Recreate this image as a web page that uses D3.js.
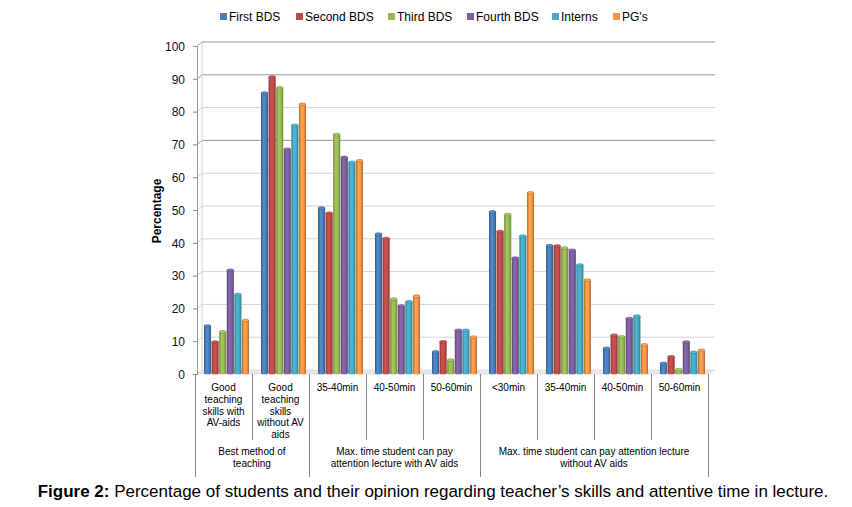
<!DOCTYPE html>
<meta charset="utf-8">
<style>
body { margin: 0; background: #fff; }
svg { font-family: "Liberation Sans", Arial, sans-serif; }
.tick text { font-size: 12px; fill: #111; }
.catlabel { font-size: 10px; fill: #000; }
.grouplabel { font-size: 10px; fill: #000; }
.legend text { font-size: 12px; fill: #000; }
</style>
<svg width="852" height="507"></svg>
<script src="https://d3js.org/d3.v7.min.js"></script>
<script>
var series = ["First BDS", "Second BDS", "Third BDS", "Fourth BDS", "Interns", "PG's"];
var colors = ["#4a7ebb", "#be4b48", "#98b954", "#7d60a0", "#46aac5", "#f69546"];

var categories = ["c1", "c2", "c3", "c4", "c5", "c6", "c7", "c8", "c9"];
var catLabels = [
  ["Good", "teaching", "skills with", "AV-aids"],
  ["Good", "teaching", "skills", "without AV", "aids"],
  ["35-40min"], ["40-50min"], ["50-60min"],
  ["<30min"], ["35-40min"], ["40-50min"], ["50-60min"]
];
var groups = [
  { lines: ["Best method of", "teaching"], from: 0, to: 1 },
  { lines: ["Max. time student can pay", "attention lecture with AV aids"], from: 2, to: 4 },
  { lines: ["Max. time student can pay attention lecture", "without AV aids"], from: 5, to: 8 }
];

// values per series, one per category
var firstBDS  = [14.6, 85.6, 50.6, 42.6, 6.7, 49.4, 39.1, 7.8, 3.2];
var secondBDS = [9.7, 90.5, 49.0, 41.3, 9.8, 43.4, 39.0, 11.8, 5.2];
var thirdBDS  = [12.8, 87.2, 73.0, 22.8, 4.2, 48.6, 38.4, 11.3, 1.3];
var fourthBDS = [31.6, 68.5, 66.0, 20.7, 13.3, 35.3, 37.7, 16.9, 9.7];
var interns   = [24.2, 75.8, 64.5, 22.0, 13.3, 42.0, 33.2, 17.6, 6.6];
var pgs       = [16.3, 82.2, 65.0, 23.7, 11.2, 55.2, 28.6, 8.9, 7.2];
var values = [firstBDS, secondBDS, thirdBDS, fourthBDS, interns, pgs];

var yTicks = [0, 10, 20, 30, 40, 50, 60, 70, 80, 90, 100];

var svg = d3.select("svg");
var defs = svg.append("defs");

var y = d3.scaleLinear().domain([0, 100]).range([374, 46]);
var xCat = d3.scaleBand().domain(categories).range([195, 708]);
var xSer = d3.scaleBand().domain(series).range([0, 45]).paddingInner(0.07);
var depth = 4;

// gradients for cylinder look
colors.forEach(function(c, i) {
  var g = defs.append("linearGradient").attr("id", "g" + i)
    .attr("x1", "0").attr("x2", "1").attr("y1", "0").attr("y2", "0");
  var base = d3.color(c);
  g.append("stop").attr("offset", "0%").attr("stop-color", base.darker(0.9));
  g.append("stop").attr("offset", "35%").attr("stop-color", base.brighter(0.25));
  g.append("stop").attr("offset", "70%").attr("stop-color", base);
  g.append("stop").attr("offset", "100%").attr("stop-color", base.darker(1.0));
});

// floor
var x0 = xCat.range()[0] + 2, x1 = xCat.range()[1];
svg.append("path")
  .attr("d", "M" + x0 + "," + y(0) + "L" + x1 + "," + y(0) + "L" + (x1 + 7) + "," + (y(0) - depth) +
             "L" + (x0 + 5) + "," + (y(0) - depth) + "Z")
  .attr("fill", "#e6e6e6").attr("stroke", "#d0d0d0").attr("stroke-width", 0.6);

// gridlines on back wall
svg.append("g").selectAll("path")
  .data(yTicks.slice(1))
  .join("path")
  .attr("d", function(d) {
    return "M" + x0 + "," + y(d) + "L" + (x0 + 5) + "," + (y(d) - depth) + "L" + (x1 + 7) + "," + (y(d) - depth);
  })
  .attr("fill", "none")
  .attr("stroke", function(d) { return (d === 100 || d === 70 || d === 90) ? "#9a9a9a" : "#d4d4d4"; })
  .attr("stroke-width", 1);

// back wall left edge
svg.append("line")
  .attr("x1", x0 + 5).attr("x2", x0 + 5).attr("y1", y(100) - depth).attr("y2", y(0) - depth)
  .attr("stroke", "#d4d4d4");

// y axis
var yAxis = d3.axisLeft(y).tickValues(yTicks).tickSize(4).tickPadding(8);
var ya = svg.append("g").attr("transform", "translate(" + x0 + ",0)").call(yAxis);
ya.select(".domain").attr("stroke", "#999");
ya.selectAll(".tick line").attr("stroke", "#888");
ya.selectAll(".tick text").attr("dy", "0.36em");

svg.append("text")
  .attr("transform", "translate(161,211) rotate(-90)")
  .attr("text-anchor", "middle")
  .style("font-size", "12px").style("font-weight", "bold")
  .text("Percentage");

// bars
var barG = svg.append("g");
categories.forEach(function(c, ci) {
  series.forEach(function(s, si) {
    var v = values[si][ci];
    var bx = xCat(c) + 9 + xSer(s), bw = xSer.bandwidth();
    var top = y(v), bottom = y(0) - 1;
    barG.append("rect")
      .attr("x", bx).attr("y", top).attr("width", bw).attr("height", bottom - top)
      .attr("fill", "url(#g" + si + ")");
    barG.append("ellipse")
      .attr("cx", bx + bw / 2).attr("cy", bottom).attr("rx", bw / 2).attr("ry", 1.3)
      .attr("fill", "url(#g" + si + ")");
    barG.append("ellipse")
      .attr("cx", bx + bw / 2).attr("cy", top).attr("rx", bw / 2).attr("ry", 1.4)
      .attr("fill", d3.color(colors[si]).brighter(0.3))
      .attr("stroke", d3.color(colors[si]).darker(0.8)).attr("stroke-width", 0.6);
  });
});

// category table lines
var lineCol = "#888";
var bottomInner = 440, bottomOuter = 477;
var tableG = svg.append("g").attr("stroke", lineCol).attr("stroke-width", 1);
var boundaries = categories.map(function(c) { return xCat(c); }).concat([x1]);
boundaries.forEach(function(bx, i) {
  var isGroupEdge = groups.some(function(g) { return g.from === i; }) || i === categories.length;
  tableG.append("line")
    .attr("x1", bx + 0.5).attr("x2", bx + 0.5)
    .attr("y1", y(0)).attr("y2", isGroupEdge ? bottomOuter : bottomInner);
});

// category labels
catLabels.forEach(function(lines, ci) {
  var t = svg.append("text").attr("class", "catlabel")
    .attr("text-anchor", "middle")
    .attr("x", xCat(categories[ci]) + xCat.bandwidth() / 2)
    .attr("y", 391);
  lines.forEach(function(l, li) {
    t.append("tspan").attr("x", xCat(categories[ci]) + xCat.bandwidth() / 2)
      .attr("dy", li === 0 ? 0 : 11.8).text(l);
  });
});

// group labels
groups.forEach(function(g) {
  var cx = (xCat(categories[g.from]) + xCat(categories[g.to]) + xCat.bandwidth()) / 2;
  var t = svg.append("text").attr("class", "grouplabel")
    .attr("text-anchor", "middle").attr("y", 455);
  g.lines.forEach(function(l, li) {
    t.append("tspan").attr("x", cx).attr("dy", li === 0 ? 0 : 12.4).text(l);
  });
});

// legend
var legendX = [220, 296, 388, 467, 552, 613];
var legend = svg.append("g").attr("class", "legend");
series.forEach(function(s, i) {
  legend.append("rect").attr("x", legendX[i]).attr("y", 13).attr("width", 7).attr("height", 7)
    .attr("fill", colors[i]);
  legend.append("text").attr("x", legendX[i] + 9).attr("y", 21).text(s);
});

// caption
var cap = svg.append("text").attr("x", 433).attr("y", 497).attr("text-anchor", "middle")
  .style("font-size", "15px").style("font-family", "'Liberation Sans Narrow', 'Liberation Sans', Arial, sans-serif");
cap.append("tspan").style("font-weight", "bold").text("Figure 2:");
cap.append("tspan").text(" Percentage of students and their opinion regarding teacher\u2019s skills and attentive time in lecture.");
var w = cap.node().getComputedTextLength();
cap.style("font-size", (15 * 791 / w) + "px");
</script>
